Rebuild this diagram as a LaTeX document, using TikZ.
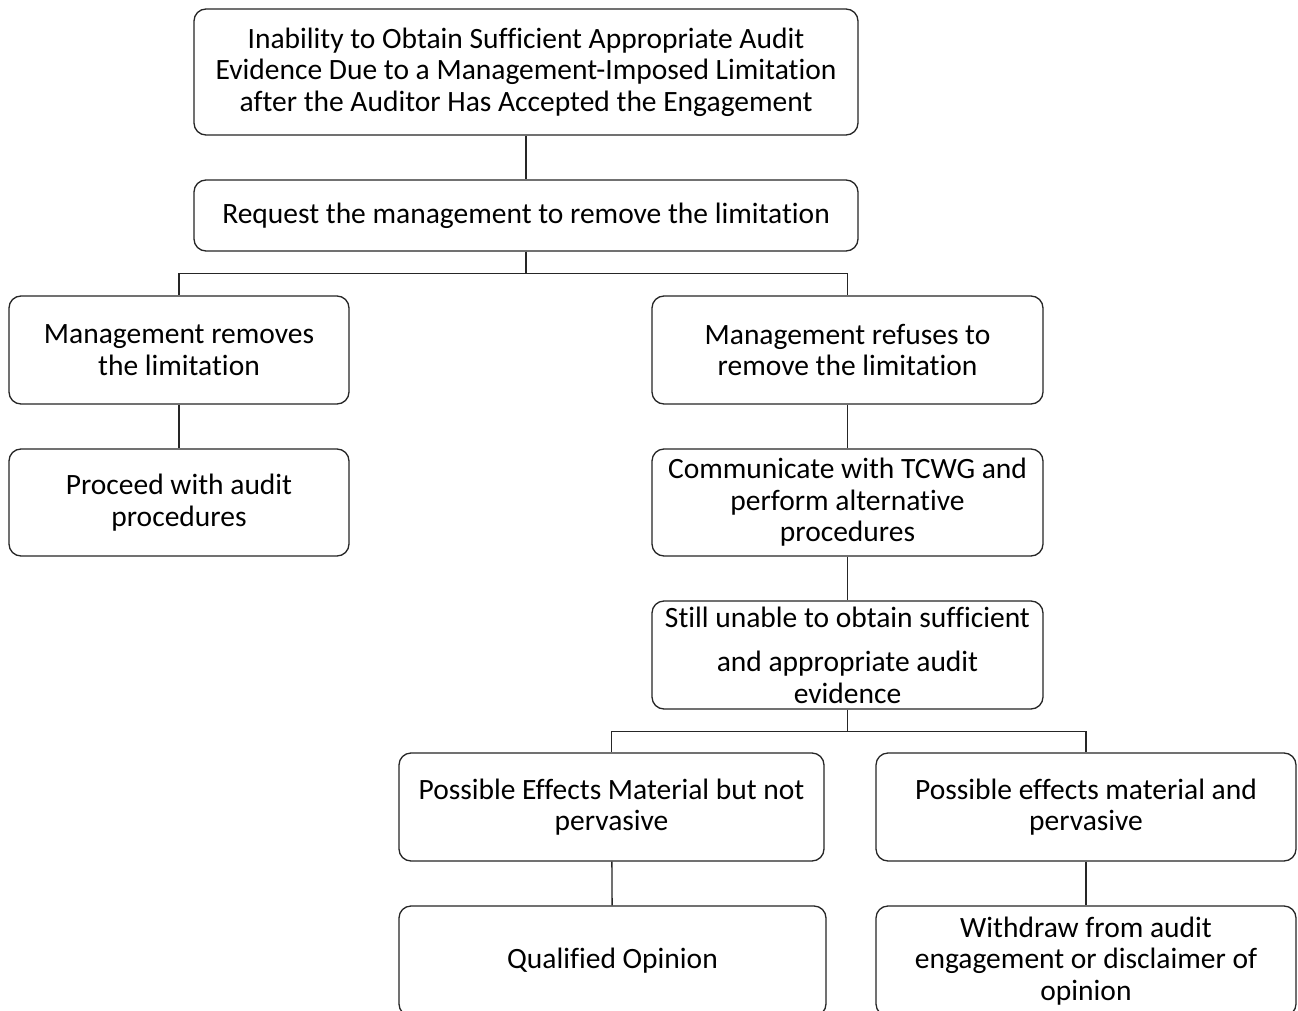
\documentclass[tikz,border=0pt]{standalone}
\usepackage{fontspec}
\setmainfont{Carlito}[Ligatures=NoCommon]
\usepackage{tikz}
\usetikzlibrary{positioning}

\begin{document}
\begin{tikzpicture}[x=1pt,y=-1pt,
    stage/.style={draw=black!85, line width=1.3pt, rounded corners=12pt,
        align=center, inner sep=2pt,
        font=\fontsize{29.5}{31.5}\selectfont},
    link/.style={draw=black!85, line width=1.3pt}]
    \useasboundingbox (0,0) rectangle (1298,1011);
    \clip (0,0) rectangle (1298,1011);
    \fill[white] (0,0) rectangle (1298,1011);

    \node[stage, minimum width=664pt, minimum height=126pt] (inab) at (526,72)
        {Inability to Obtain Sufficient Appropriate Audit\\
         Evidence Due to a Management-Imposed Limitation\\
         after the Auditor Has Accepted the Engagement};
    \node[stage, minimum width=664pt, minimum height=71pt] (req) at (526,215.5)
        {Request the management to remove the limitation};
    \node[stage, minimum width=340pt, minimum height=108pt] (rem) at (179,350)
        {Management removes\\ the limitation};
    \node[stage, minimum width=391pt, minimum height=108pt] (refuse) at (847.5,350)
        {Management refuses to\\ remove the limitation};
    \node[stage, minimum width=340pt, minimum height=107pt] (proc) at (179,502.5)
        {Proceed with audit\\ procedures};
    \node[stage, minimum width=391pt, minimum height=107pt] (comm) at (847.5,502.5)
        {Communicate with TCWG and\\ perform alternative\\ procedures};
    \node[stage, minimum width=391pt, minimum height=108pt] (still) at (847.5,655)
        {Still unable to obtain sufficient\\[13pt] and appropriate audit\\ evidence};
    \node[stage, minimum width=425pt, minimum height=108pt] (notperv) at (611.5,807)
        {Possible Effects Material but not\\ pervasive};
    \node[stage, minimum width=420pt, minimum height=108pt] (perv) at (1086,807)
        {Possible effects material and\\ pervasive};
    \node[stage, minimum width=427pt, minimum height=110pt] (qual) at (612.5,961)
        {Qualified Opinion};
    \node[stage, minimum width=420pt, minimum height=110pt] (withdraw) at (1086,961)
        {Withdraw from audit\\ engagement or disclaimer of\\ opinion};

    % connectors
    \draw[link] (inab) -- (req);
    \draw[link] (req.south) -- ++(0,22) -| (rem.north);
    \draw[link] (req.south) -- ++(0,22) -| (refuse.north);
    \draw[link] (rem) -- (proc);
    \draw[link] (refuse) -- (comm);
    \draw[link] (comm) -- (still);
    \draw[link] (still.south) -- ++(0,22) -| (notperv.north);
    \draw[link] (still.south) -- ++(0,22) -| (perv.north);
    \draw[link] (notperv) -- (qual);
    \draw[link] (perv) -- (withdraw);
\end{tikzpicture}
\end{document}
